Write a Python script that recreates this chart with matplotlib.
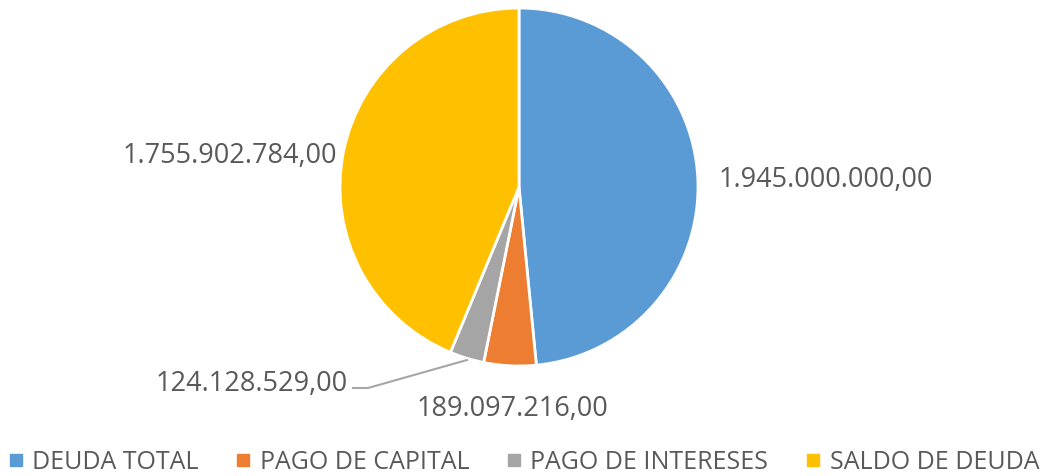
import matplotlib.pyplot as plt
from matplotlib.lines import Line2D

# deuda: montos en pesos
categorias = ['DEUDA TOTAL', 'PAGO DE CAPITAL', 'PAGO DE INTERESES', 'SALDO DE DEUDA']
montos = [1945000000.00, 189097216.00, 124128529.00, 1755902784.00]
colores = ['#5B9BD5', '#ED7D31', '#A5A5A5', '#FFC000']

texto = '#595959'
plt.rcParams['font.family'] = ['Open Sans', 'DejaVu Sans']


def fmt(v):
    s = f'{v:,.2f}'
    return s.replace(',', 'X').replace('.', ',').replace('X', '.')


W, H = 1046, 477
cx, cy, r = 519, 188, 179
fig = plt.figure(figsize=(W / 100, H / 100), dpi=100)
ax = fig.add_axes([0, 0, 1, 1])


def px(x, y):
    return (x - cx) / r, (cy - y) / r


wedges, _ = ax.pie(montos, colors=colores, startangle=90, counterclock=False,
                   radius=1, wedgeprops=dict(edgecolor='white', linewidth=2))
ax.set_xlim(-cx / r, (W - cx) / r)
ax.set_ylim((cy - H) / r, cy / r)
ax.set_aspect('equal')
ax.axis('off')

kw = dict(fontsize=19.5, color=texto, va='center')
ax.text(*px(719, 180), fmt(montos[0]), ha='left', **kw)
ax.text(*px(337, 156), fmt(montos[3]), ha='right', **kw)
ax.text(*px(348, 384), fmt(montos[2]), ha='right', **kw)
ax.text(*px(512, 409), fmt(montos[1]), ha='center', **kw)

# linea guia de intereses
lx, ly = zip(px(353, 389), px(368, 389), px(467, 361))
ax.plot(lx, ly, color='#A6A6A6', lw=1.5)

handles = [Line2D([], [], marker='s', ls='none', markersize=8, color=c) for c in colores]
fig.legend(handles, categorias, loc='center', bbox_to_anchor=(0.5, 1 - 463 / H), ncol=4,
           frameon=False, fontsize=18, labelcolor=texto, handletextpad=0.3,
           columnspacing=1.45, handlelength=0.7, borderaxespad=0)

fig.savefig('out.png', dpi=100)
